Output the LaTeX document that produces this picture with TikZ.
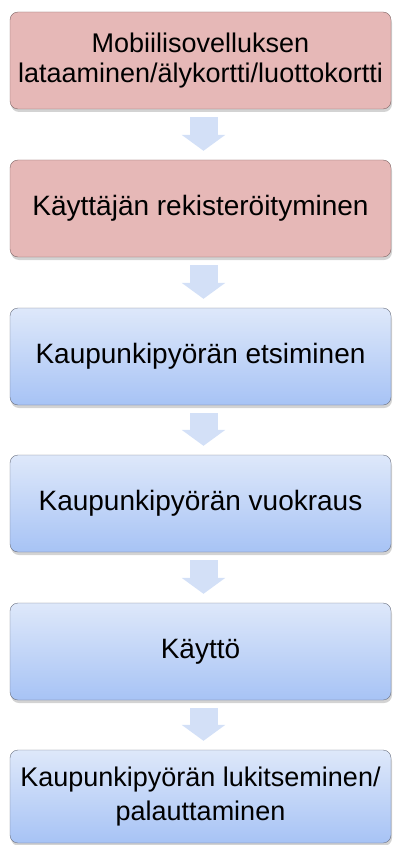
\documentclass[tikz,border=0pt]{standalone}
\usepackage{fontspec}
\setmainfont{Liberation Sans}
\usetikzlibrary{shadows,arrows.meta}
\definecolor{pinkfill}{HTML}{E6B8B7}
\definecolor{pinkline}{HTML}{806666}
\definecolor{bluetop}{HTML}{DEE8FA}
\definecolor{bluebot}{HTML}{A7C3F5}
\definecolor{blueline}{HTML}{6A7080}
\definecolor{arrowfill}{HTML}{D3E0F7}
\begin{document}
\begin{tikzpicture}[x=1pt,y=-1pt]
\tikzset{
  stepbox/.style={rounded corners=8pt, minimum width=381pt, minimum height=97pt,
    inner sep=2pt, align=center, font=\fontsize{28}{31}\selectfont,
    drop shadow={shadow xshift=1pt,shadow yshift=-3pt,opacity=0.35}},
  redbox/.style={stepbox, fill=pinkfill, draw=pinkline},
  bluebox/.style={stepbox, draw=blueline, top color=bluetop, bottom color=bluebot},
  flow/.style={draw=arrowfill, line width=28pt, -{Triangle[width=43pt,length=16pt]},
    shorten <=8pt, shorten >=9pt}
}
\useasboundingbox (0,0) rectangle (392,845);
% steps
\node[redbox, font=\fontsize{27}{30}\selectfont] (lataus) at (200.5,60.5)
  {Mobiilisovelluksen\\lataaminen/älykortti/luottokortti};
\node[redbox] (rekisteri) at (200.5,208.5) {Käyttäjän rekisteröityminen};
\node[bluebox] (etsinta) at (200.5,356.5) {Kaupunkipyörän etsiminen};
\node[bluebox] (vuokraus) at (200.5,503.5) {Kaupunkipyörän vuokraus};
\node[bluebox] (kaytto) at (200.5,651.5) {Käyttö};
\node[bluebox, minimum height=93pt, font=\fontsize{27}{34}\selectfont] (palautus) at (200.5,796.5)
  {Kaupunkipyörän lukitseminen/\\palauttaminen};
% arrows
\draw[flow] ([xshift=3pt]lataus.south) -- ([xshift=3pt]rekisteri.north);
\draw[flow] ([xshift=3pt]rekisteri.south) -- ([xshift=3pt]etsinta.north);
\draw[flow] ([xshift=3pt]etsinta.south) -- ([xshift=3pt]vuokraus.north);
\draw[flow] ([xshift=3pt]vuokraus.south) -- ([xshift=3pt]kaytto.north);
\draw[flow] ([xshift=3pt]kaytto.south) -- ([xshift=3pt]palautus.north);
\end{tikzpicture}
\end{document}
